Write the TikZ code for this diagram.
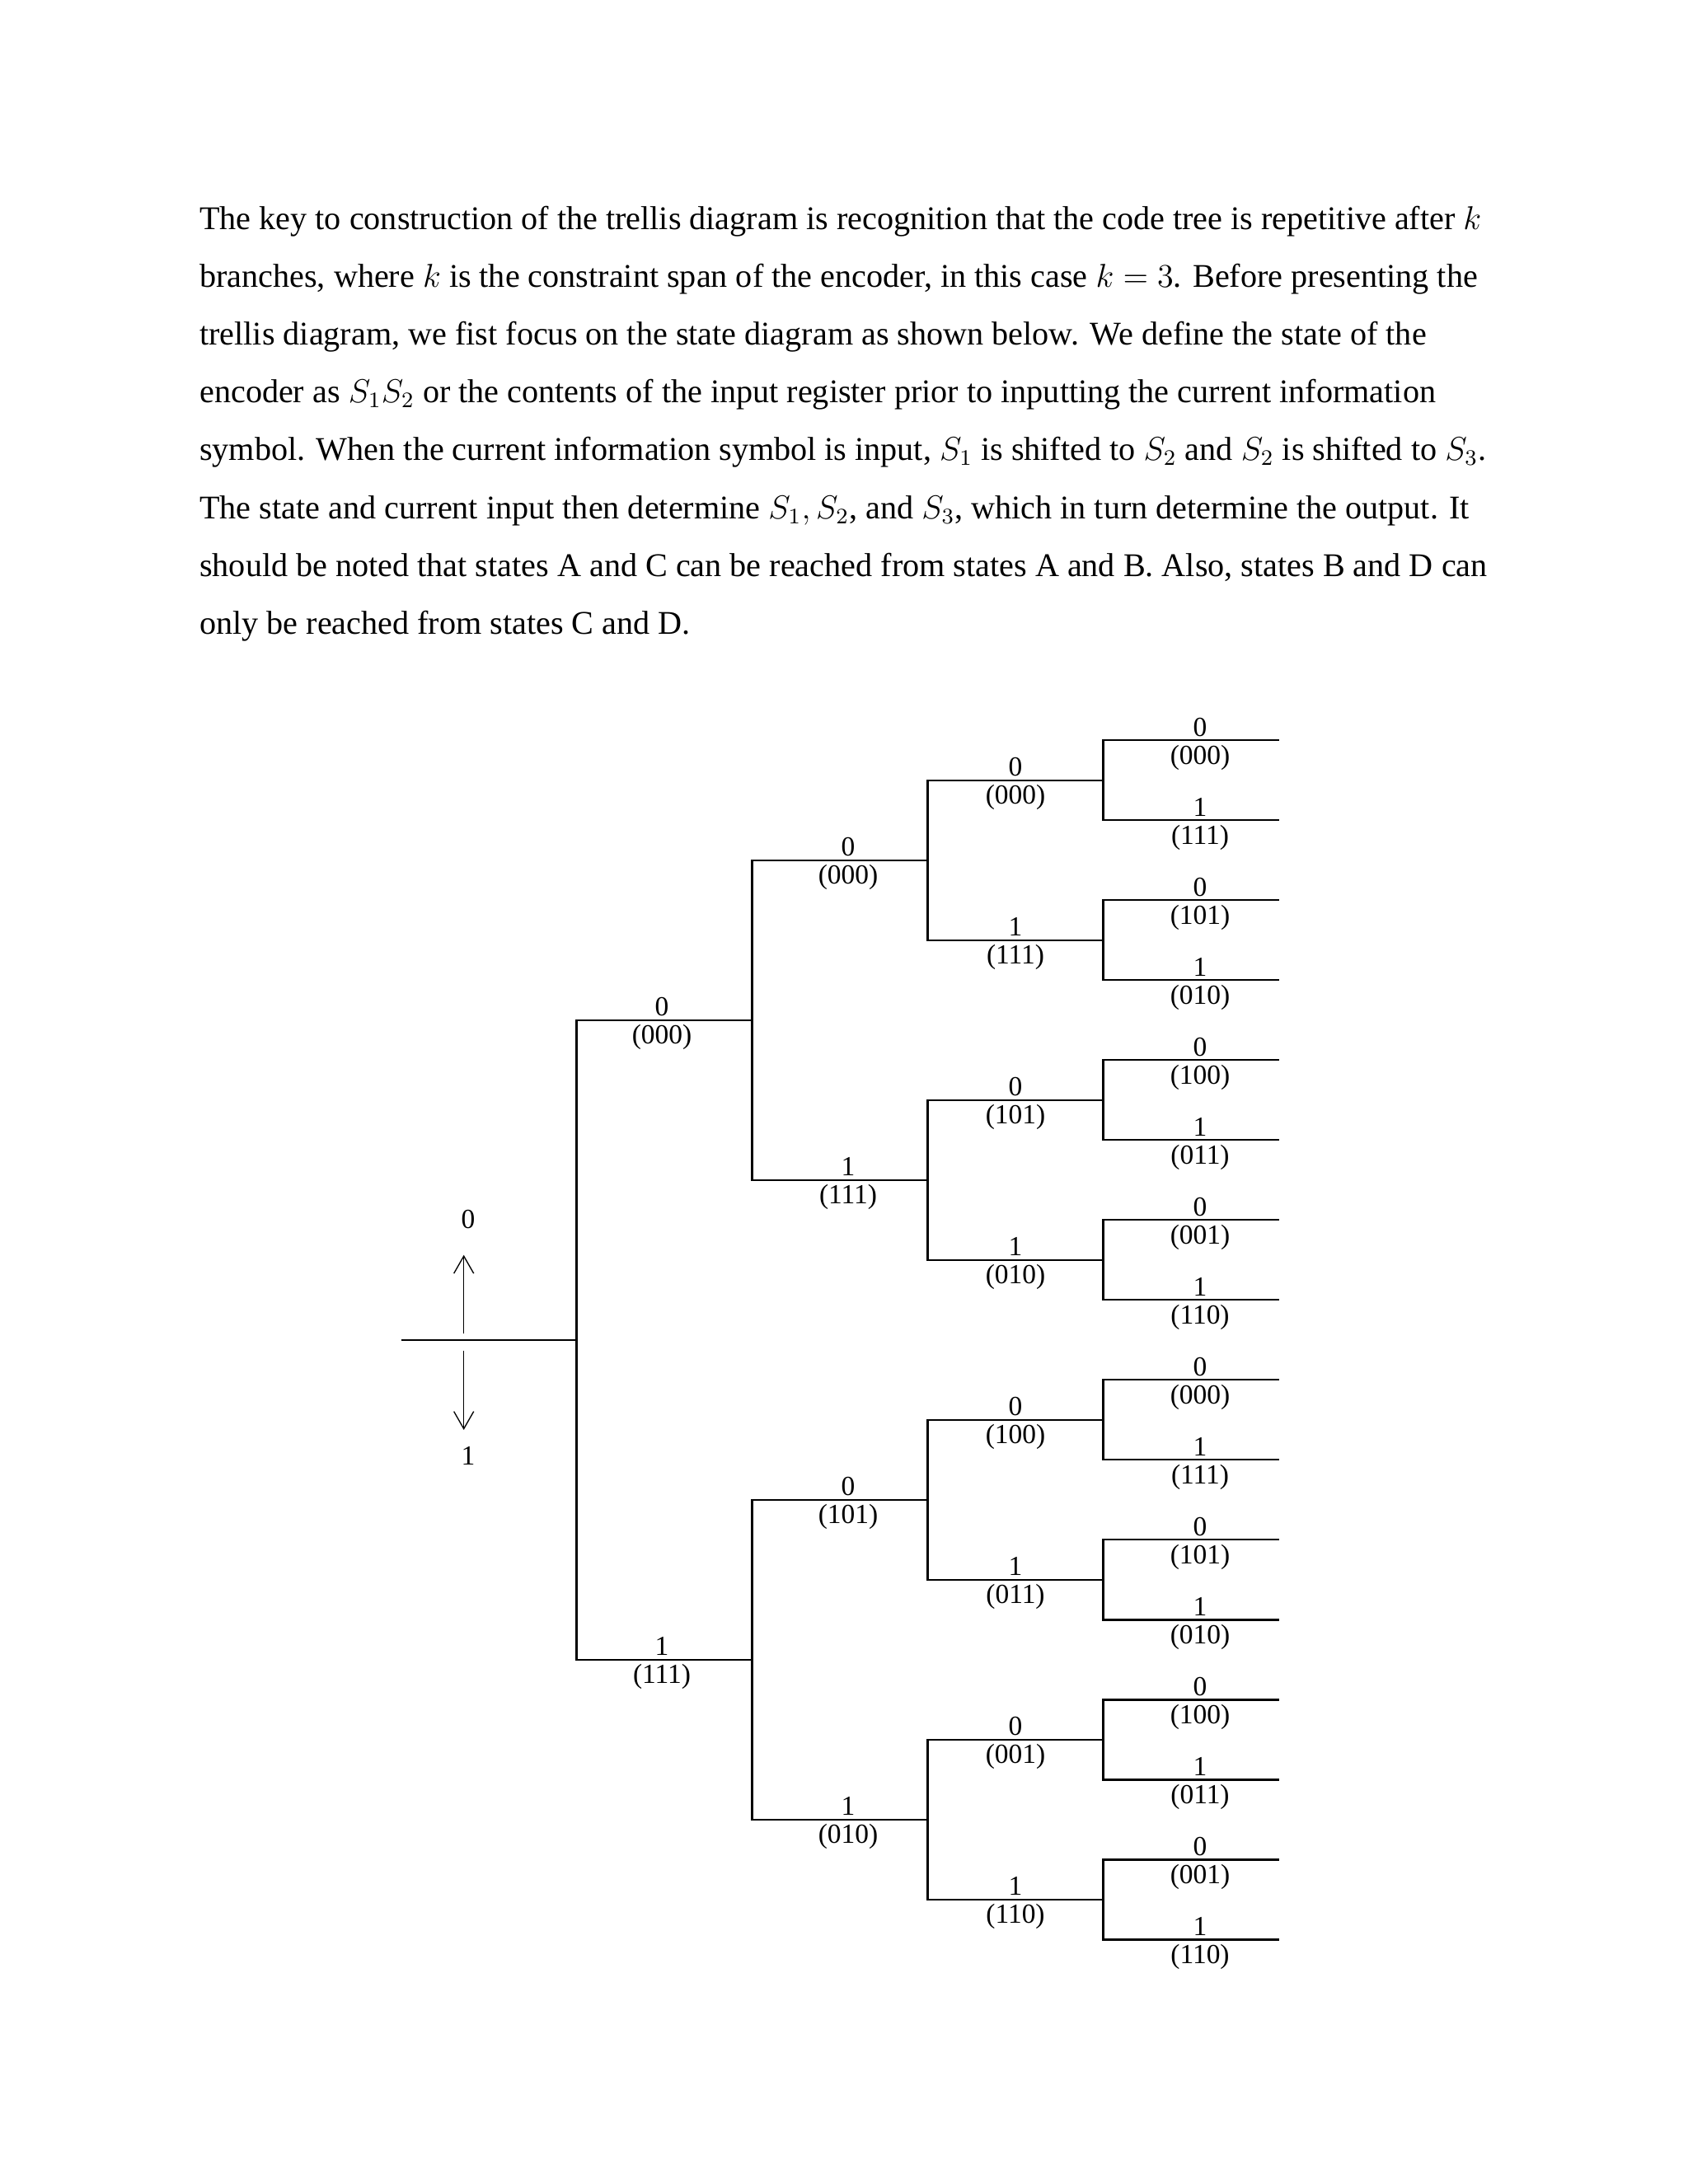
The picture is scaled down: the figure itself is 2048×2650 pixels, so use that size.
\documentclass[tikz,border=0pt]{standalone}
\usepackage{fontspec}
\setmainfont{Liberation Serif}
\usetikzlibrary{arrows.meta}
\begin{document}
\begin{tikzpicture}[x=0.29883pt,y=-0.29883pt,
  txt/.style={anchor=base west,inner sep=0pt,font=\fontsize{12}{14}\selectfont},
  lab/.style={anchor=base,inner sep=0pt,font=\fontsize{10}{11}\selectfont},
  br/.style={line width=0.7pt},
  arr/.style={line width=0.4pt,-{Straight Barb[length=6.3pt,width=7.2pt]}}]
\useasboundingbox[fill=white] (0,0) rectangle (2048,2650);
% paragraph
\node[txt] (t1) at (241.6,278.3) {The key to construction of the trellis diagram is recognition that the code tree is repetitive after $k$};
\node[txt] (t2) at (241.6,348.4) {branches, where $k$ is the constraint span of the encoder, in this case $k = 3$. Before presenting the};
\node[txt] (t3) at (241.6,418.6) {trellis diagram, we fist focus on the state diagram as shown below. We define the state of the};
\node[txt] (t4) at (241.6,488.7) {encoder as $S_1S_2$ or the contents of the input register prior to inputting the current information};
\node[txt] (t5) at (241.6,558.9) {symbol. When the current information symbol is input, $S_1$ is shifted to $S_2$ and $S_2$ is shifted to $S_3$.};
\node[txt] (t6) at (241.6,629.0) {The state and current input then determine $S_1, S_2$, and $S_3$, which in turn determine the output. It};
\node[txt] (t7) at (241.6,699.1) {should be noted that states A and C can be reached from states A and B. Also, states B and D can};
\node[txt] (t8) at (241.6,769.3) {only be reached from states C and D.};
% input arrows
\node[lab] (in0) at (568,1490) {0};
\node[lab] (in1) at (568,1777) {1};
\coordinate (u0) at (562.7,1618.3);
\coordinate (u1) at (562.7,1522.7);
\coordinate (d0) at (562.7,1639.3);
\coordinate (d1) at (562.7,1735);
\draw[arr] (u0) -- (u1);
\draw[arr] (d0) -- (d1);
% tree
\coordinate (s) at (486.5,1625.8);
\coordinate (r) at (699.5,1625.8);
\draw[br] (s) -- (r);
\foreach \j/\o in {0/000,1/111} {
  \pgfmathsetmacro\yy{1237.8+776*\j}
  \pgfmathtruncatemacro\b{mod(\j,2)}
  \coordinate (a\j) at (912.5,\yy);
  \draw[br] (r) |- (a\j);
  \node[lab] (la\j) at (803,{\yy-5}) {\b};
  \node[lab] (oa\j) at (803,{\yy+29}) {(\o)};
}
\foreach \j/\o in {0/000,1/111,2/101,3/010} {
  \pgfmathsetmacro\yy{1043.8+388*\j}
  \pgfmathtruncatemacro\b{mod(\j,2)}
  \pgfmathtruncatemacro\p{floor(\j/2)}
  \coordinate (b\j) at (1125.5,\yy);
  \draw[br] (a\p) |- (b\j);
  \node[lab] (lb\j) at (1029,{\yy-5}) {\b};
  \node[lab] (ob\j) at (1029,{\yy+29}) {(\o)};
}
\foreach \j/\o in {0/000,1/111,2/101,3/010,4/100,5/011,6/001,7/110} {
  \pgfmathsetmacro\yy{946.8+194*\j}
  \pgfmathtruncatemacro\b{mod(\j,2)}
  \pgfmathtruncatemacro\p{floor(\j/2)}
  \coordinate (c\j) at (1338.5,\yy);
  \draw[br] (b\p) |- (c\j);
  \node[lab] (lc\j) at (1232,{\yy-5}) {\b};
  \node[lab] (oc\j) at (1232,{\yy+29}) {(\o)};
}
\foreach \j/\o in {0/000,1/111,2/101,3/010,4/100,5/011,6/001,7/110,8/000,9/111,10/101,11/010,12/100,13/011,14/001,15/110} {
  \pgfmathsetmacro\yy{898.3+97*\j}
  \pgfmathtruncatemacro\b{mod(\j,2)}
  \pgfmathtruncatemacro\p{floor(\j/2)}
  \coordinate (e\j) at (1551.5,\yy);
  \draw[br] (c\p) |- (e\j);
  \node[lab] (le\j) at (1456,{\yy-5}) {\b};
  \node[lab] (oe\j) at (1456,{\yy+29}) {(\o)};
}
\end{tikzpicture}
\end{document}
